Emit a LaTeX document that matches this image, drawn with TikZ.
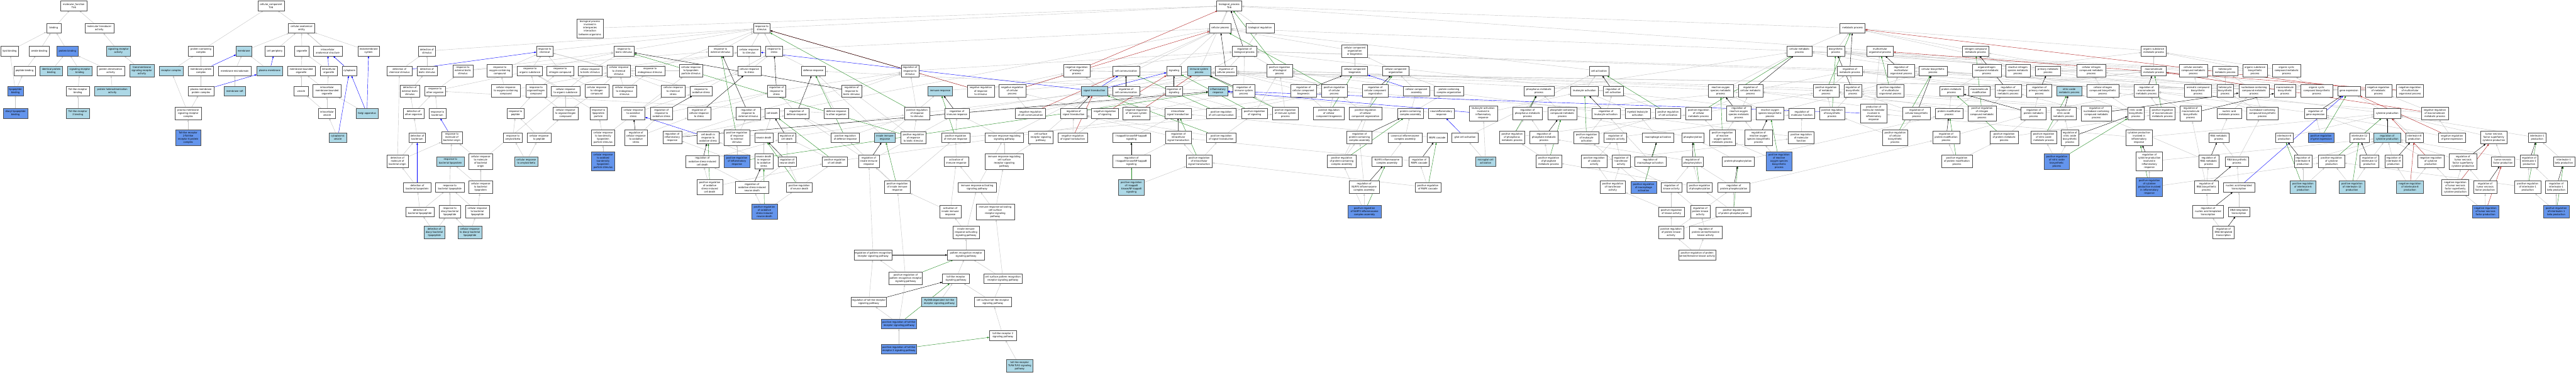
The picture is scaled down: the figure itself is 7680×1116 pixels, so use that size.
\documentclass[tikz,border=0pt]{standalone}
\usepackage{fontspec}
\setmainfont{DejaVu Sans Condensed}
\usetikzlibrary{arrows.meta}
\definecolor{lb}{RGB}{173,216,230}
\definecolor{cf}{RGB}{100,149,237}
\definecolor{gline}{RGB}{196,196,196}
\definecolor{grn}{RGB}{34,139,34}
\definecolor{rd}{RGB}{178,34,34}
\pgfdeclarelayer{back}
\pgfdeclarelayer{bg}
\pgfsetlayers{back,bg,main}
\tikzset{
  box/.style={draw=black!70, line width=0.9pt, fill=white, align=center, inner xsep=2pt, inner ysep=5.5pt,
    minimum height=29pt, font=\fontsize{7.5}{9.5}\selectfont},
  L/.style={fill=lb}, C/.style={fill=cf},
  arr/.style={line width=0.8pt, -{Triangle[length=6pt,width=4.5pt]}},
  eg/.style={arr, draw=gline},
  eb/.style={arr, draw=blue},
  egr/.style={arr, draw=grn},
  er/.style={arr, draw=rd},
  ek/.style={arr, draw=black}
}
\newcommand{\B}[5][]{\node[box,minimum width=#4pt,#1] (#2) at (#3) {#5};}
\begin{document}
\begin{tikzpicture}[x=1pt,y=-1pt]
\begin{pgfonlayer}{back}
\fill[white] (0,0) rectangle (7680,1116);
\end{pgfonlayer}
\useasboundingbox (0,0) rectangle (7680,1116);
% ---------------- molecular function
\B{mf}{220,17}{79}{molecular\_function\\Tlr6}
\B{binding}{160,84}{43}{binding}
\B{mta}{296,84}{86}{molecular transducer\\activity}
\B{lipidb}{29,152}{52}{lipid binding}
\B{amideb}{117,152}{60}{amide binding}
\B[C]{protb}{201,152}{63}{protein binding}
\B[L]{sra}{353,152}{73}{signaling receptor\\activity}
\B{peptb}{73,211}{64}{peptide binding}
\B[L]{idprot}{153,211}{67}{identical protein\\binding}
\B[L]{srb}{238,211}{73}{signaling receptor\\binding}
\B{pdim}{330,211}{83}{protein dimerization\\activity}
\B[L]{tmsra}{423,211}{73}{transmembrane\\signaling receptor\\activity}
\B[C]{lipopb}{46,271}{47}{lipopeptide\\binding}
\B{tlrb}{232,271}{69}{Toll-like receptor\\binding}
\B[L]{phet}{335,271}{108}{protein heterodimerization\\activity}
\B[C]{dlipb}{46,338}{74}{diacyl lipopeptide\\binding}
\B[L]{tlr2b}{232,338}{69}{Toll-like receptor\\2 binding}
% ---------------- cellular component
\B{cc}{808,17}{79}{cellular\_component\\Tlr6}
\B{cae}{899,84}{78}{cellular anatomical\\entity}
\B{pcc}{599,152}{76}{protein-containing\\complex}
\B[L]{membrane}{727,152}{46}{membrane}
\B{cellper}{819,152}{57}{cell periphery}
\B{organelle}{900,152}{43}{organelle}
\B{ias}{977,152}{85}{intracellular\\anatomical structure}
\B{endo}{1099,152}{65}{endomembrane\\system}
\B[L]{recc}{510,211}{72}{receptor complex}
\B{mpc}{599,211}{76}{membrane protein\\complex}
\B{mmd}{700,211}{99}{membrane microdomain}
\B[L]{pm}{804,211}{77}{plasma membrane}
\B{mbo}{898,211}{83}{membrane-bounded\\organelle}
\B{io}{980,211}{50}{intracellular\\organelle}
\B{cyto}{1042,211}{44}{cytoplasm}
\B{pmpc}{599,271}{77}{plasma membrane\\protein complex}
\B[L]{mraft}{700,271}{63}{membrane raft}
\B{vesicle}{898,271}{44}{vesicle}
\B{imbo}{975,271}{84}{intracellular\\membrane-bounded\\organelle}
\B{pmsrc}{561,338}{78}{plasma membrane\\signaling receptor\\complex}
\B{iv}{975,338}{50}{intracellular\\vesicle}
\B[L]{golgi}{1094,338}{66}{Golgi apparatus}
\B[C]{tlr26}{561,410}{74}{Toll-like receptor\\2-Toll-like\\receptor 6 protein\\complex}
\B[L]{cv}{1007,410}{52}{cytoplasmic\\vesicle}
% ---------------- biological process, rows 17/84/152
\B{bp}{3665,17}{75}{biological\_process\\Tlr6}
\B{cellproc}{3638,84}{63}{cellular process}
\B{bioreg}{3757,84}{83}{biological regulation}
\B{rstim}{2271,84}{50}{response to\\stimulus}
\B{bpinter}{1759,84}{80}{biological process\\involved in\\interspecies\\interaction\\between organisms}
\B{metab}{5523,84}{75}{metabolic process}
\B{detstim}{1273,152}{50}{detection of\\stimulus}
\B{rchem}{1624,152}{49}{response to\\chemical}
\B{rbiotic}{1860,152}{61}{response to\\biotic stimulus}
\B{rext}{2148,152}{72}{response to\\external stimulus}
\B{crstim}{2233,152}{70}{cellular response\\to stimulus}
\B{rstress}{2308,152}{50}{response to\\stress}
\B{regbp}{3710,152}{74}{regulation of\\biological process}
\B{ccob}{4039,152}{77}{cellular component\\organization\\or biogenesis}
\B{cmp}{5365,152}{74}{cellular metabolic\\process}
\B{biosyn}{5473,152}{52}{biosynthetic\\process}
\B{mop}{5605,152}{80}{multicellular\\organismal process}
\B{ncmp}{5890,152}{79}{nitrogen compound\\metabolic process}
\B{osmp}{6421,152}{75}{organic substance\\metabolic process}
% ---------------- row 211
\B{detchem}{1191,211}{76}{detection of\\chemical stimulus}
\B{detbiotic}{1273,211}{60}{detection of\\biotic stimulus}
\B{rextbiotic}{1380,211}{59}{response to\\external biotic\\stimulus}
\B{roxy}{1490,211}{75}{response to\\oxygen-containing\\compound}
\B{rorg}{1580,211}{75}{response to\\organic substance}
\B{rnitro}{1670,211}{79}{response to\\nitrogen compound}
\B{crbiotic}{1759,211}{70}{cellular response\\to biotic stimulus}
\B{crchem}{1845,211}{70}{cellular response\\to chemical\\stimulus}
\B{rendo}{1938,211}{87}{response to\\endogenous stimulus}
\B{crlpp}{2060,211}{70}{cellular response\\to lipoprotein\\particle stimulus}
\B{crstress}{2234,211}{70}{cellular response\\to stress}
\B{defense}{2425,211}{72}{defense response}
\B{regrstim}{2713,211}{53}{regulation of\\response to\\stimulus}
\B{negregbp}{3210,211}{79}{negative regulation\\of biological\\process}
\B{cellcomm}{3357,211}{80}{cell communication}
\B{signaling}{3500,211}{44}{signaling}
\B[L]{isp}{3575,211}{68}{immune system\\process}
\B{regcp}{3655,211}{65}{regulation of\\cellular process}
\B{posregbp}{3815,211}{76}{positive regulation\\of biological\\process}
\B{ccbio}{4039,211}{77}{cellular component\\biogenesis}
\B{ccorg}{4161,211}{78}{cellular component\\organization}
\B{cellact}{4767,211}{58}{cell activation}
\B{regmetab}{5515,211}{75}{regulation of\\metabolic process}
\B{regmop}{5668,211}{81}{regulation of\\multicellular\\organismal process}
\B{cbp}{5763,211}{83}{cellular biosynthetic\\process}
\B{oncmp}{5923,211}{86}{organonitrogen\\compound metabolic\\process}
\B{rnsmp}{6016,211}{74}{reactive nitrogen\\species metabolic\\process}
\B{pmp}{6106,211}{75}{primary metabolic\\process}
\B{cncmp}{6235,211}{85}{cellular nitrogen\\compound metabolic\\process}
\B{mmp}{6421,211}{75}{macromolecule\\metabolic process}
\B{cacmp}{6539,211}{85}{cellular aromatic\\compound metabolic\\process}
\B{hmp}{6634,211}{75}{heterocycle\\metabolic process}
\B{osbp}{6723,211}{73}{organic substance\\biosynthetic\\process}
\B{occmp}{6817,211}{86}{organic cyclic\\compound metabolic\\process}
% ---------------- row 271
\B{detextbiotic}{1222,271}{59}{detection of\\external biotic\\stimulus}
\B{rother}{1297,271}{61}{response to\\other organism}
\B{croxy}{1508,271}{86}{cellular response\\to oxygen-containing\\compound}
\B{rorgn}{1598,271}{62}{response to\\organonitrogen\\compound}
\B{crorg}{1686,271}{85}{cellular response\\to organic substance}
\B{crnitro}{1779,271}{71}{cellular response\\to nitrogen\\compound}
\B{crendo}{1862,271}{70}{cellular response\\to endogenous\\stimulus}
\B{crcstress}{2007,271}{71}{cellular response\\to chemical\\stress}
\B{roxstress}{2090,271}{65}{response to\\oxidative stress}
\B{regrstress}{2315,271}{53}{regulation of\\response to\\stress}
\B{regrbiotic}{2539,271}{60}{regulation of\\response to\\biotic stimulus}
\B[L]{immresp}{2803,271}{73}{immune response}
\B{negregrstim}{2924,271}{80}{negative regulation\\of response\\to stimulus}
\B{negregcp}{3018,271}{80}{negative regulation\\of cellular\\process}
\B[L]{sigtrans}{3263,271}{78}{signal transduction}
\B{regcellcomm}{3357,271}{80}{regulation of\\cell communication}
\B{regsig}{3500,271}{52}{regulation of\\signaling}
\B[L]{inflam}{3631,271}{57}{inflammatory\\response}
\B{regisp}{3708,271}{65}{regulation of\\immune system\\process}
\B{regccbio}{3886,271}{77}{regulation of\\cellular component\\biogenesis}
\B{posregcp}{3978,271}{76}{positive regulation\\of cellular\\process}
\B{regccorg}{4100,271}{78}{regulation of\\cellular component\\organization}
\B{ccassembly}{4223,271}{78}{cellular component\\assembly}
\B{pcorg}{4320,271}{88}{protein-containing\\complex organization}
\B{phosmp}{4588,271}{90}{phosphorus metabolic\\process}
\B{leukact}{4724,271}{82}{leukocyte activation}
\B{regcellact}{4809,271}{60}{regulation of\\cell activation}
\B{rosmp}{5130,271}{74}{reactive oxygen\\species metabolic\\process}
\B{regcmp}{5219,271}{73}{regulation of\\cellular metabolic\\process}
\B{posregmetab}{5444,271}{77}{positive regulation\\of metabolic\\process}
\B{regbiosyn}{5524,271}{53}{regulation of\\biosynthetic\\process}
\B{posregmop}{5636,271}{80}{positive regulation\\of multicellular\\organismal process}
\B{protmp}{5818,271}{72}{protein metabolic\\process}
\B{mmmod}{5901,271}{64}{macromolecule\\modification}
\B{regncmp}{5987,271}{78}{regulation of\\nitrogen compound\\metabolic process}
\B{regpmp}{6080,271}{75}{regulation of\\primary metabolic\\process}
\B[L]{nomp}{6169,271}{75}{nitric oxide\\metabolic process}
\B{cncbp}{6269,271}{95}{cellular nitrogen\\compound biosynthetic\\process}
\B{regmmp}{6399,271}{74}{regulation of\\macromolecule\\metabolic process}
\B{acbp}{6553,271}{81}{aromatic compound\\biosynthetic\\process}
\B{hbp}{6634,271}{49}{heterocycle\\biosynthetic\\process}
\B{nbcmp}{6720,271}{91}{nucleobase-containing\\compound metabolic\\process}
\B{mmbp}{6812,271}{64}{macromolecule\\biosynthetic\\process}
\B{occbp}{6907,271}{94}{organic cyclic\\compound biosynthetic\\process}
\B{geneexp}{7003,271}{67}{gene expression}
\B{negregmetab}{7091,271}{79}{negative regulation\\of metabolic\\process}
\B{negregmop}{7185,271}{80}{negative regulation\\of multicellular\\organismal process}
% ---------------- row 338
\B{rbact}{1304,338}{50}{response to\\bacterium}
\B{detother}{1233,338}{63}{detection of\\other organism}
\B{rpept}{1537,338}{49}{response to\\peptide}
\B{crorgn}{1686,338}{74}{cellular response\\to organonitrogen\\compound}
\B{rlpp}{1784,338}{50}{response to\\lipoprotein\\particle}
\B{croxstress}{1888,338}{70}{cellular response\\to oxidative\\stress}
\B{regroxstress}{1972,338}{65}{regulation of\\response to\\oxidative stress}
\B{regcrstress}{2084,338}{70}{regulation of\\cellular response\\to stress}
\B{regrext}{2231,338}{73}{regulation of\\response to\\external stimulus}
\B{celldeath}{2302,338}{43}{cell death}
\B{regdef}{2375,338}{72}{regulation of\\defense response}
\B{defother}{2493,338}{72}{defense response\\to other organism}
\B{posregrstim}{2734,338}{76}{positive regulation\\of response\\to stimulus}
\B{regimmresp}{2853,338}{73}{regulation of\\immune response}
\B{negregcellcomm}{3072,338}{90}{negative regulation\\of cell communication}
\B{regsigtrans}{3201,338}{78}{regulation of\\signal transduction}
\B{negregsig}{3294,338}{80}{negative regulation\\of signaling}
\B{negregisp}{3388,338}{80}{negative regulation\\of immune system\\process}
\B{ist}{3512,338}{78}{intracellular\\signal transduction}
\B{posregcellcomm}{3641,338}{88}{positive regulation\\of cell communication}
\B{posregsig}{3740,338}{77}{positive regulation\\of signaling}
\B{posregisp}{3832,338}{77}{positive regulation\\of immune system\\process}
\B{posregccbio}{3962,338}{92}{positive regulation\\of cellular\\component biogenesis}
\B{posregccorg}{4071,338}{98}{positive regulation\\of cellular\\component organization}
\B{pcassembly}{4205,338}{77}{protein-containing\\complex assembly}
\B{neuroinflam}{4297,338}{78}{neuroinflammatory\\response}
\B{leukactinflam}{4422,338}{84}{leukocyte activation\\involved in\\inflammatory\\response}
\B{regphosmp}{4554,338}{89}{regulation of\\phosphorus metabolic\\process}
\B{pcompmp}{4658,338}{87}{phosphate-containing\\compound metabolic\\process}
\B{regleukact}{4788,338}{83}{regulation of\\leukocyte activation}
\B{myelact}{4882,338}{75}{myeloid leukocyte\\activation}
\B{posregcellact}{4973,338}{76}{positive regulation\\of cell activation}
\B{posregcmp}{5064,338}{77}{positive regulation\\of cellular\\metabolic process}
\B{regrosmp}{5184,338}{74}{regulation of\\reactive oxygen\\species metabolic\\process}
\B{rosbp}{5277,338}{83}{reactive oxygen\\species biosynthetic\\process}
\B{regmf}{5372,338}{77}{regulation of\\molecular function}
\B{posregbiosyn}{5462,338}{76}{positive regulation\\of biosynthetic\\process}
\B{prodmm}{5586,338}{80}{production of\\molecular mediator\\involved in\\inflammatory\\response}
\B{regcbp}{5714,338}{83}{regulation of\\cellular biosynthetic\\process}
\B{protmod}{5811,338}{81}{protein modification\\process}
\B{posregncmp}{5909,338}{84}{positive regulation\\of nitrogen\\compound metabolic\\process}
\B{regprotmp}{6063,338}{75}{regulation of\\protein metabolic\\process}
\B{regnomp}{6152,338}{75}{regulation of\\nitric oxide\\metabolic process}
\B{regnbcmp}{6250,338}{91}{regulation of\\nucleobase-containing\\compound metabolic\\process}
\B{nobp}{6368,338}{50}{nitric oxide\\biosynthetic\\process}
\B{posregmmp}{6447,338}{76}{positive regulation\\of macromolecule\\metabolic process}
\B{regmmbp}{6531,338}{64}{regulation of\\macromolecule\\biosynthetic\\process}
\B{namp}{6646,338}{74}{nucleic acid\\metabolic process}
\B{nbcbp}{6745,338}{94}{nucleobase-containing\\compound biosynthetic\\process}
\B{reggeneexp}{6903,338}{67}{regulation of\\gene expression}
\B{cytprod}{7117,338}{80}{cytokine production}
\B{negregmmp}{7259,338}{80}{negative regulation\\of macromolecule\\metabolic process}
% ---------------- row 410
\B{rmbo}{1347,410}{62}{response to\\molecule of\\bacterial origin}
\B{detbact}{1244,410}{49}{detection of\\bacterium}
\B{ramyloid}{1529,410}{56}{response to\\amyloid-beta}
\B{crpept}{1607,410}{71}{cellular response\\to peptide}
\B{crldl}{1798,410}{69}{cellular response\\to low-density\\lipoprotein\\particle stimulus}
\B{regcroxstress}{1896,410}{69}{regulation of\\cellular response\\to oxidative\\stress}
\B{reginflam}{2004,410}{56}{regulation of\\inflammatory\\response}
\B{cdoxstress}{2111,410}{66}{cell death in\\response to\\oxidative stress}
\B{posregrext}{2197,410}{76}{positive regulation\\of response\\to external\\stimulus}
\B{neurondeath}{2277,410}{54}{neuron death}
\B{regcelldeath}{2346,410}{52}{regulation of\\cell death}
\B{posregdef}{2520,410}{84}{positive regulation\\of defense response}
\B[L]{innate}{2638,410}{61}{innate immune\\response}
\B{posregrbiotic}{2723,410}{76}{positive regulation\\of response\\to biotic stimulus}
\B{posregimmresp}{2849,410}{84}{positive regulation\\of immune response}
\B{irrsp}{2994,410}{115}{immune response-regulating\\signaling pathway}
\B{csrsp}{3103,410}{73}{cell surface\\receptor signaling\\pathway}
\B{negregsigtrans}{3198,410}{88}{negative regulation\\of signal transduction}
\B{ikk}{3373,410}{113}{I-kappaB kinase/NF-kappaB\\signaling}
\B{regist}{3513,410}{78}{regulation of\\intracellular\\signal transduction}
\B{posregsigtrans}{3641,410}{89}{positive regulation\\of signal transduction}
\B{regpcassembly}{4053,410}{75}{regulation of\\protein-containing\\complex assembly}
\B{canonical}{4189,410}{102}{canonical inflammasome\\complex assembly}
\B{mapk}{4285,410}{59}{MAPK cascade}
\B{glial}{4368,410}{79}{glial cell activation}
\B{posregphosmp}{4508,410}{75}{positive regulation\\of phosphorus\\metabolic process}
\B{regphmp}{4603,410}{84}{regulation of\\phosphate metabolic\\process}
\B{posregleukact}{4730,410}{75}{positive regulation\\of leukocyte\\activation}
\B{regcatact}{4816,410}{68}{regulation of\\catalytic activity}
\B{macroact}{4943,410}{93}{macrophage activation}
\B{phosphorylation}{5047,410}{66}{phosphorylation}
\B{posregrosmp}{5135,410}{77}{positive regulation\\of reactive\\oxygen species\\metabolic process}
\B{regrosbp}{5243,410}{84}{regulation of\\reactive oxygen\\species biosynthetic\\process}
\B{posregmf}{5370,410}{77}{positive regulation\\of molecular\\function}
\B{posregcbp}{5650,410}{76}{positive regulation\\of cellular\\biosynthetic\\process}
\B{regprotmod}{5802,410}{81}{regulation of\\protein modification\\process}
\B{posregprotmp}{5975,410}{83}{positive regulation\\of protein metabolic\\process}
\B{posregnomp}{6093,410}{77}{positive regulation\\of nitric oxide\\metabolic process}
\B{regnobp}{6171,410}{53}{regulation of\\nitric oxide\\biosynthetic\\process}
\B{cpinflam}{6377,410}{80}{cytokine production\\involved in\\inflammatory\\response}
\B{rnamp}{6615,410}{60}{RNA metabolic\\process}
\B{il6}{6810,410}{53}{interleukin-6\\production}
\B[C]{posreggeneexp}{6920,410}{77}{positive regulation\\of gene expression}
\B{il12}{7034,410}{59}{interleukin-12\\production}
\B[L]{regcytprod}{7117,410}{80}{regulation of\\cytokine production}
\B{il8}{7198,410}{53}{interleukin-8\\production}
\B{negreggeneexp}{7310,410}{80}{negative regulation\\of gene expression}
\B{tnfsf}{7435,410}{80}{tumor necrosis\\factor superfamily\\cytokine production}
\B{il1}{7564,410}{52}{interleukin-1\\production}
% ---------------- row 481
\B{detmbo}{1185,481}{63}{detection of\\molecule of\\bacterial origin}
\B[L]{rblp}{1343,481}{83}{response to\\bacterial lipoprotein}
\B{crmbo}{1433,481}{70}{cellular response\\to molecule\\of bacterial\\origin}
\B[L]{cramyloid}{1569,481}{69}{cellular response\\to amyloid-beta}
\B[C]{croxldl}{1798,481}{69}{cellular response\\to oxidised\\low-density\\lipoprotein\\particle stimulus}
\B{regoxcd}{2094,481}{100}{regulation of\\oxidative stress-induced\\cell death}
\B[C]{posreginflam}{2197,481}{76}{positive regulation\\of inflammatory\\response}
\B{ndoxstress}{2277,481}{55}{neuron death\\in response\\to oxidative\\stress}
\B{regneurondeath}{2347,481}{54}{regulation of\\neuron death}
\B{posregcelldeath}{2489,481}{75}{positive regulation\\of cell death}
\B{reginnate}{2590,481}{62}{regulation of\\innate immune\\response}
\B{actimmresp}{2851,481}{74}{activation of\\immune response}
\B{irrcsrsp}{2994,481}{115}{immune response-regulating\\cell surface\\receptor signaling\\pathway}
\B{regikk}{3373,481}{113}{regulation of\\I-kappaB kinase/NF-kappaB\\signaling}
\B{posregist}{3575,481}{78}{positive regulation\\of intracellular\\signal transduction}
\B{posregpcassembly}{4000,481}{85}{positive regulation\\of protein-containing\\complex assembly}
\B{nlrp3}{4135,481}{90}{NLRP3 inflammasome\\complex assembly}
\B{regmapk}{4231,481}{60}{regulation of\\MAPK cascade}
\B[L]{microglial}{4429,481}{60}{microglial cell\\activation}
\B{posregphmp}{4617,481}{77}{positive regulation\\of phosphate\\metabolic process}
\B{posregcatact}{4753,481}{76}{positive regulation\\of catalytic\\activity}
\B{regtransf}{4833,481}{53}{regulation of\\transferase\\activity}
\B{regmacroact}{4920,481}{93}{regulation of\\macrophage activation}
\B{regphosph}{5046,481}{65}{regulation of\\phosphorylation}
\B{protphosph}{5182,481}{96}{protein phosphorylation}
\B[C]{posregrosbp}{5304,481}{76}{positive regulation\\of reactive\\oxygen species\\biosynthetic\\process}
\B{posregprotmod}{5834,481}{92}{positive regulation\\of protein modification\\process}
\B[C]{posregnobp}{6132,481}{76}{positive regulation\\of nitric oxide\\biosynthetic\\process}
\B{regcpinflam}{6408,481}{79}{regulation of\\cytokine production\\involved in\\inflammatory\\response}
\B{regrnamp}{6585,481}{61}{regulation of\\RNA metabolic\\process}
\B{rnabp}{6669,481}{70}{RNA biosynthetic\\process}
\B{regil6}{6866,481}{53}{regulation of\\interleukin-6\\production}
\B{posregcytprod}{6951,481}{77}{positive regulation\\of cytokine\\production}
\B{regil12}{7064,481}{56}{regulation of\\interleukin-12\\production}
\B{regil8}{7136,481}{52}{regulation of\\interleukin-8\\production}
\B{negregcytprod}{7247,481}{80}{negative regulation\\of cytokine\\production}
\B{regtnfsf}{7343,481}{81}{regulation of\\tumor necrosis\\factor superfamily\\cytokine production}
\B{tnfprod}{7462,481}{70}{tumor necrosis\\factor production}
\B{regil1}{7540,481}{53}{regulation of\\interleukin-1\\production}
\B{il1b}{7644,481}{64}{interleukin-1\\beta production}
% ---------------- row 558
\B{detblp}{1244,558}{82}{detection of\\bacterial lipoprotein}
\B{rblpept}{1341,558}{85}{response to\\bacterial lipopeptide}
\B{crblp}{1433,558}{70}{cellular response\\to bacterial\\lipoprotein}
\B{posregoxcd}{2116,558}{76}{positive regulation\\of oxidative\\stress-induced\\cell death}
\B{regoxnd}{2242,558}{100}{regulation of\\oxidative stress-induced\\neuron death}
\B{posregneurondeath}{2383,558}{77}{positive regulation\\of neuron death}
\B{posreginnate}{2675,558}{76}{positive regulation\\of innate immune\\response}
\B{iraspa}{2913,558}{114}{immune response-activating\\signaling pathway}
\B[L]{posregikk}{3373,558}{77}{positive regulation\\of I-kappaB\\kinase/NF-kappaB\\signaling}
\B{regnlrp3}{4067,558}{90}{regulation of\\NLRP3 inflammasome\\complex assembly}
\B{posregmapk}{4257,558}{77}{positive regulation\\of MAPK cascade}
\B{posregtransf}{4808,558}{76}{positive regulation\\of transferase\\activity}
\B[C]{posregmacroact}{4900,558}{77}{positive regulation\\of macrophage\\activation}
\B{regkinase}{4983,558}{62}{regulation of\\kinase activity}
\B{posregphosph}{5067,558}{76}{positive regulation\\of phosphorylation}
\B{regprotphosph}{5169,558}{97}{regulation of\\protein phosphorylation}
\B[C]{posregcpinflam}{6408,558}{79}{positive regulation\\of cytokine\\production involved\\in inflammatory\\response}
\B{regrnabp}{6578,558}{71}{regulation of\\RNA biosynthetic\\process}
\B{natt}{6675,558}{93}{nucleic acid-templated\\transcription}
\B[L]{posregil6}{6866,558}{76}{positive regulation\\of interleukin-6\\production}
\B[L]{posregil12}{7012,558}{77}{positive regulation\\of interleukin-12\\production}
\B[L]{negregil8}{7185,558}{80}{negative regulation\\of interleukin-8\\production}
\B{negregtnfsf}{7320,558}{81}{negative regulation\\of tumor necrosis\\factor superfamily\\cytokine production}
\B{regtnf}{7409,558}{70}{regulation of\\tumor necrosis\\factor production}
\B{posregil1}{7536,558}{77}{positive regulation\\of interleukin-1\\production}
\B{regil1b}{7621,558}{65}{regulation of\\interleukin-1\\beta production}
% ---------------- row 631
\B{detblpept}{1252,631}{83}{detection of\\bacterial lipopeptide}
\B{rdiacyl}{1341,631}{63}{response to\\diacyl bacterial\\lipopeptide}
\B{crblpept}{1423,631}{71}{cellular response\\to bacterial\\lipopeptide}
\B[C]{posregoxnd}{2279,631}{76}{positive regulation\\of oxidative\\stress-induced\\neuron death}
\B{actinnate}{2833,631}{63}{activation of\\innate immune\\response}
\B{iracsrsp}{2967,631}{115}{immune response-activating\\cell surface\\receptor signaling\\pathway}
\B[C]{posregnlrp3}{4068,631}{99}{positive regulation\\of NLRP3 inflammasome\\complex assembly}
\B{posregkinase}{4983,631}{76}{positive regulation\\of kinase activity}
\B{regpka}{5069,631}{58}{regulation of\\protein kinase\\activity}
\B{posregprotphosph}{5168,631}{106}{positive regulation\\of protein phosphorylation}
\B{regnatt}{6583,631}{92}{regulation of\\nucleic acid-templated\\transcription}
\B{dtt}{6675,631}{64}{DNA-templated\\transcription}
\B[C]{negregtnf}{7410,631}{79}{negative regulation\\of tumor necrosis\\factor production}
\B[C]{posregil1b}{7621,631}{77}{positive regulation\\of interleukin-1\\beta production}
% ---------------- row 693
\B[L]{detdiacyl}{1295,693}{63}{detection of\\diacyl bacterial\\lipopeptide}
\B[L]{crdiacyl}{1401,693}{73}{cellular response\\to diacyl bacterial\\lipopeptide}
\B{iiraspa}{2880,693}{79}{innate immune\\response-activating\\signaling pathway}
\B{posregpka}{4982,693}{74}{positive regulation\\of protein kinase\\activity}
\B{regpstk}{5085,693}{98}{regulation of\\protein serine/threonine\\kinase activity}
\B{regdtt}{6629,693}{63}{regulation of\\DNA-templated\\transcription}
% ---------------- lower rows
\B{regprr}{2603,760}{110}{regulation of pattern recognition\\receptor signaling pathway}
\B{prr}{2880,760}{110}{pattern recognition receptor\\signaling pathway}
\B{posregpstk}{5060,760}{110}{positive regulation of protein\\serine/threonine kinase activity}
\B{posregprr}{2700,830}{100}{positive regulation of\\pattern recognition receptor\\signaling pathway}
\B{tlrsp}{2850,830}{80}{toll-like receptor\\signaling pathway}
\B{csprr}{2990,830}{115}{cell surface pattern recognition\\receptor signaling pathway}
\B{regtlr}{2590,900}{105}{regulation of toll-like receptor\\signaling pathway}
\B[L]{myd88}{2800,900}{105}{MyD88-dependent toll-like\\receptor signaling pathway}
\B{cstlr}{2960,900}{110}{cell surface toll-like receptor\\signaling pathway}
\B[C]{posregtlr}{2680,965}{105}{positive regulation of toll-like\\receptor signaling pathway}
\B{tlr2sp}{2990,1000}{80}{toll-like receptor 2\\signaling pathway}
\B[C]{posregtlr2}{2680,1040}{105}{positive regulation of toll-like\\receptor 2 signaling pathway}
\B[L]{tlr62}{3040,1090}{80}{toll-like receptor\\TLR6:TLR2 signaling\\pathway}
% ================= edges
\begin{pgfonlayer}{bg}
\foreach \a/\b in {binding/mf, mta/mf, lipidb/binding, amideb/binding, protb/binding, sra/mta, peptb/amideb, idprot/protb, srb/protb, pdim/protb, tmsra/sra, lipopb/lipidb, lipopb/peptb, tlrb/srb, phet/pdim, dlipb/lipopb, tlr2b/tlrb,
pcc/cc, cae/cc, membrane/cae, cellper/cae, organelle/cae, ias/cae, endo/cae, cyto/cae, recc/pcc, mpc/pcc, mmd/membrane, pm/membrane, mbo/organelle, io/organelle, pmpc/mpc, mraft/mmd, vesicle/mbo, imbo/mbo, imbo/io, iv/vesicle, iv/imbo, golgi/imbo, cv/iv, pmsrc/recc, pmsrc/pmpc, tlr26/pmsrc,
cellproc/bp, bioreg/bp, rstim/bp, bpinter/bp, metab/bp, mop/bp, isp/bp, regbp/bioreg,
detstim/rstim, rchem/rstim, rbiotic/rstim, rext/rstim, crstim/rstim, crstim/cellproc, rstress/rstim, ccob/cellproc,
detchem/detstim, detbiotic/detstim, rextbiotic/rext, rextbiotic/rbiotic, roxy/rchem, rorg/rchem, rnitro/rchem, crbiotic/rbiotic, crbiotic/crstim, crchem/rchem, crchem/crstim, rendo/rstim, crlpp/crchem, crstress/crstim, crstress/rstress, defense/rstress, regrstim/regbp, negregbp/regbp, cellcomm/cellproc, signaling/cellproc, regcp/regbp, posregbp/regbp, ccbio/ccob, ccorg/ccob, cellact/cellproc, regmetab/regbp, regmop/regbp, cbp/biosyn, cbp/cmp, oncmp/ncmp, oncmp/osmp, rnsmp/ncmp, pmp/metab, cncmp/ncmp, cncmp/cmp, mmp/osmp, mmp/pmp, cacmp/cmp, hmp/cmp, osbp/biosyn, osbp/osmp, occmp/osmp, osmp/metab, cmp/metab, biosyn/metab, ncmp/metab, cmp/cellproc,
detextbiotic/detbiotic, rother/rbiotic, rother/rextbiotic, croxy/roxy, croxy/crchem, rorgn/rnitro, rorgn/rorg, crorg/rorg, crorg/crchem, crnitro/rnitro, crnitro/crchem, crendo/rendo, crendo/crchem, crcstress/crchem, crcstress/crstress, roxstress/rstress, roxstress/rchem, regrstress/regrstim, regrbiotic/regrstim, immresp/isp, negregrstim/regrstim, negregrstim/negregbp, negregcp/regcp, negregcp/negregbp, sigtrans/cellproc, regcellcomm/regcp, regsig/regbp, inflam/defense, regisp/regbp, regccbio/regcp, posregcp/regcp, posregcp/posregbp, regccorg/regcp, ccassembly/ccorg, pcorg/ccorg, phosmp/cmp, leukact/cellact, regcellact/regcp, rosmp/cmp, regcmp/regmetab, regcmp/regcp, posregmetab/regmetab, posregmetab/posregbp, regbiosyn/regmetab, posregmop/regmop, posregmop/posregbp, protmp/mmp, protmp/oncmp, mmmod/mmp, regncmp/regmetab, regpmp/regmetab, nomp/rnsmp, cncbp/cncmp, cncbp/cbp, regmmp/regmetab, acbp/cacmp, acbp/cbp, hbp/hmp, hbp/cbp, nbcmp/cacmp, nbcmp/hmp, nbcmp/cncmp, mmbp/mmp, mmbp/biosyn, occbp/occmp, occbp/osbp, geneexp/mmp, negregmetab/regmetab, negregmetab/negregbp, negregmop/regmop, negregmop/negregbp}
  \draw[eg] (\a) -- (\b);
\foreach \a/\b in {rbact/rother, rpept/rorgn, crorgn/rorgn, crorgn/crorg, crorgn/crnitro, rlpp/rorg, croxstress/roxstress, croxstress/crcstress, regroxstress/regrstress, regcrstress/regrstress, regrext/regrstim, celldeath/cellproc, regdef/regrstress, defother/defense, defother/rother, posregrstim/regrstim, posregrstim/posregbp, regimmresp/regisp, negregcellcomm/regcellcomm, negregcellcomm/negregcp, regsigtrans/regsig, negregsig/regsig, negregsig/negregcp, negregisp/regisp, negregisp/negregbp, ist/sigtrans, posregcellcomm/regcellcomm, posregcellcomm/posregcp, posregsig/regsig, posregsig/posregbp, posregisp/regisp, posregisp/posregbp, posregccbio/regccbio, posregccbio/posregcp, posregccorg/regccorg, posregccorg/posregcp, pcassembly/ccassembly, pcassembly/pcorg, neuroinflam/inflam, leukactinflam/leukact, regphosmp/regcmp, pcompmp/phosmp, regleukact/regcellact, myelact/leukact, posregcellact/regcellact, posregcellact/posregcp, posregcmp/regcmp, posregcmp/posregmetab, regrosmp/regcmp, rosbp/rosmp, rosbp/cbp, regmf/regbp, posregbiosyn/regbiosyn, posregbiosyn/posregmetab, prodmm/mop, regcbp/regbiosyn, regcbp/regcmp, protmod/protmp, protmod/mmmod, posregncmp/regncmp, posregncmp/posregmetab, regprotmp/regmmp, regprotmp/regpmp, regnomp/regcmp, regnbcmp/regncmp, nobp/nomp, nobp/cncbp, posregmmp/regmmp, posregmmp/posregmetab, regmmbp/regmmp, regmmbp/regbiosyn, namp/nbcmp, nbcbp/nbcmp, nbcbp/cncbp, nbcbp/acbp, nbcbp/hbp, reggeneexp/regmmp, cytprod/geneexp, cytprod/mop, negregmmp/regmmp, negregmmp/negregmetab,
detbact/detother, detother/detextbiotic, detother/rother, ramyloid/rpept, crpept/rpept, crpept/crorgn, crldl/rlpp, crldl/crlpp, regcroxstress/regroxstress, regcroxstress/regcrstress, reginflam/regdef, reginflam/regrext, cdoxstress/celldeath, posregrext/regrext, posregrext/posregrstim, neurondeath/celldeath, regcelldeath/regcp, posregdef/regdef, posregdef/posregrstim, innate/immresp, innate/defense, posregrbiotic/regrbiotic, posregrbiotic/posregrstim, posregimmresp/regimmresp, posregimmresp/posregisp, irrsp/sigtrans, irrsp/regimmresp, csrsp/sigtrans, negregsigtrans/regsigtrans, negregsigtrans/negregsig, ikk/ist, regist/regsigtrans, posregsigtrans/regsigtrans, posregsigtrans/posregsig, regpcassembly/regccorg, canonical/pcassembly, mapk/ist, glial/cellact, posregphosmp/regphosmp, posregphosmp/posregcmp, regphmp/regphosmp, posregleukact/regleukact, posregleukact/posregcellact, regcatact/regmf, macroact/myelact, phosphorylation/pcompmp, posregrosmp/regrosmp, posregrosmp/posregcmp, regrosbp/regrosmp, posregmf/regmf, posregmf/posregbp, posregcbp/regcbp, posregcbp/posregbiosyn, regprotmod/regprotmp, posregprotmp/regprotmp, posregprotmp/posregmmp, posregnomp/regnomp, regnobp/regnomp, cpinflam/cytprod, cpinflam/prodmm, rnamp/namp, il6/cytprod, posreggeneexp/reggeneexp, il12/cytprod, regcytprod/reggeneexp, il8/cytprod, negreggeneexp/reggeneexp, negreggeneexp/negregmmp, tnfsf/cytprod, il1/cytprod}
  \draw[eg] (\a) -- (\b);
\foreach \a/\b in {detmbo/detchem, detmbo/rmbo, detmbo/detbact, rblp/rmbo, crmbo/rmbo, crmbo/crbiotic, cramyloid/ramyloid, cramyloid/crpept, croxldl/crldl, regoxcd/regcelldeath, posreginflam/reginflam, posreginflam/posregrext, ndoxstress/neurondeath, ndoxstress/cdoxstress, regneurondeath/regcelldeath, posregcelldeath/regcelldeath, posregcelldeath/posregcp, reginnate/regimmresp, reginnate/regdef, actimmresp/posregimmresp, irrcsrsp/irrsp, irrcsrsp/csrsp, regikk/regist, posregist/regist, posregist/posregsigtrans, posregpcassembly/regpcassembly, posregpcassembly/posregccorg, nlrp3/canonical, regmapk/regist, microglial/glial, microglial/leukactinflam, posregphmp/regphmp, posregphmp/posregphosmp, posregcatact/regcatact, posregcatact/posregmf, regtransf/regcatact, regmacroact/regleukact, regphosph/regphmp, protphosph/phosphorylation, protphosph/protmod, posregrosbp/regrosbp, posregrosbp/posregrosmp, posregprotmod/regprotmod, posregprotmod/posregprotmp, posregnobp/regnobp, posregnobp/posregnomp, regcpinflam/regcytprod, regrnamp/regnbcmp, rnabp/rnamp, rnabp/nbcbp, regil6/regcytprod, posregcytprod/regcytprod, regil12/regcytprod, regil8/regcytprod, negregcytprod/regcytprod, regtnfsf/regcytprod, tnfprod/tnfsf, regil1/regcytprod, il1b/il1,
detblp/detmbo, rblpept/rblp, crblp/rblp, crblp/crmbo, posregoxcd/regoxcd, posregoxcd/posregcelldeath, regoxnd/regoxcd, regoxnd/regneurondeath, posregneurondeath/regneurondeath, posregneurondeath/posregcelldeath, posreginnate/reginnate, posreginnate/posregdef, posreginnate/posregimmresp, iraspa/irrsp, iraspa/actimmresp, posregikk/regikk, posregikk/posregist, regnlrp3/regpcassembly, posregmapk/regmapk, posregmapk/posregist, posregtransf/regtransf, posregtransf/posregcatact, posregmacroact/regmacroact, posregmacroact/posregleukact, regkinase/regtransf, regkinase/regphosph, posregphosph/regphosph, posregphosph/posregphmp, regprotphosph/regphosph, regprotphosph/regprotmod, posregcpinflam/regcpinflam, posregcpinflam/posregcytprod, regrnabp/regrnamp, regrnabp/regmmbp, natt/rnabp, posregil6/regil6, posregil6/posregcytprod, posregil12/regil12, posregil12/posregcytprod, negregil8/regil8, negregil8/negregcytprod, negregtnfsf/regtnfsf, negregtnfsf/negregcytprod, regtnf/regtnfsf, posregil1/regil1, posregil1/posregcytprod, regil1b/regil1,
detblpept/detblp, detblpept/rblpept, rdiacyl/rblpept, crblpept/rblpept, crblpept/crblp, posregoxnd/regoxnd, posregoxnd/posregneurondeath, actinnate/actimmresp, actinnate/posreginnate, iracsrsp/iraspa, iracsrsp/irrcsrsp, posregnlrp3/regnlrp3, posregnlrp3/posregpcassembly, posregkinase/regkinase, posregkinase/posregtransf, regpka/regkinase, regpka/regprotphosph, posregprotphosph/regprotphosph, posregprotphosph/posregphosph, regnatt/regrnabp, dtt/natt, negregtnf/regtnf, negregtnf/negregtnfsf, posregil1b/regil1b, posregil1b/posregil1,
detdiacyl/detblpept, detdiacyl/rdiacyl, crdiacyl/rdiacyl, crdiacyl/crblpept, iiraspa/iraspa, iiraspa/actinnate, posregpka/regpka, posregpka/posregkinase, posregpka/posregprotphosph, regpstk/regpka, regdtt/regnatt,
regprr/reginnate, prr/iiraspa, posregpstk/posregpka, posregpstk/regpstk, posregprr/regprr, posregprr/posreginnate, tlrsp/prr, csprr/prr, csprr/iracsrsp, regtlr/regprr, myd88/tlrsp, cstlr/tlrsp, cstlr/csprr, posregtlr/regtlr, posregtlr/posregprr, tlr2sp/cstlr, posregtlr2/posregtlr, tlr62/tlr2sp}
  \draw[eg] (\a) -- (\b);
% part_of (blue)
\foreach \a/\b in {mpc/membrane, pm/cellper, pmpc/pm, io/ias, cyto/ias, golgi/cyto, golgi/endo, cv/cyto, detchem/rchem, sigtrans/cellcomm, sigtrans/signaling, sigtrans/crstim, leukactinflam/inflam, ccassembly/ccbio, prodmm/inflam, glial/neuroinflam, rmbo/rbact, natt/geneexp, detblp/detbact, cdoxstress/croxstress}
  \draw[eb] (\a) -- (\b);
% positively regulates (green)
\foreach \a/\b in {posregbp/bp, posregcp/cellproc, posregmetab/metab, posregmop/mop, posregrstim/rstim, posregisp/isp, posregccbio/ccbio, posregccorg/ccorg, posregcellcomm/cellcomm, posregsig/signaling, posregcellact/cellact, posregcmp/cmp, posregbiosyn/biosyn, posregncmp/ncmp, posregmmp/mmp, posregrext/rext, posregdef/defense, posregrbiotic/rbiotic, posregimmresp/immresp, posregsigtrans/sigtrans, posregphosmp/phosmp, posregleukact/leukact, posregrosmp/rosmp, posregcbp/cbp, posregprotmp/protmp, posregnomp/nomp, posreggeneexp/geneexp, posreginflam/inflam, posregcelldeath/celldeath, posregist/ist, posregpcassembly/pcassembly, posregphmp/pcompmp, posregrosbp/rosbp, posregprotmod/protmod, posregnobp/nobp, posregcytprod/cytprod, posregneurondeath/neurondeath, posreginnate/innate, posregikk/ikk, posregmapk/mapk, posregmacroact/macroact, posregphosph/phosphorylation, posregcpinflam/cpinflam, posregil6/il6, posregil12/il12, posregil1/il1, posregoxnd/ndoxstress, posregnlrp3/nlrp3, posregprotphosph/protphosph, posregil1b/il1b, posregoxcd/cdoxstress, posregprr/prr, posregtlr/tlrsp, posregtlr2/tlr2sp}
  \draw[egr] (\a) -- (\b);
% negatively regulates (red)
\foreach \a/\b in {negregbp/bp, negregcp/cellproc, negregrstim/rstim, negregmetab/metab, negregmop/mop, negregmmp/mmp, negreggeneexp/geneexp, negregcytprod/cytprod, negregil8/il8, negregtnfsf/tnfsf, negregtnf/tnfprod, negregcellcomm/cellcomm, negregsig/signaling, negregisp/isp, negregsigtrans/sigtrans}
  \draw[er] (\a) -- (\b);
% regulates (black)
\foreach \a/\b in {regbp/bp, regrstim/rstim, regcp/cellproc, regmetab/metab, regmop/mop, regcellcomm/cellcomm, regsig/signaling, regisp/isp, regccbio/ccbio, regccorg/ccorg, regcellact/cellact, regcmp/cmp, regbiosyn/biosyn, regncmp/ncmp, regpmp/pmp, regmmp/mmp, regrstress/rstress, regrbiotic/rbiotic, regroxstress/roxstress, regcrstress/crstress, regrext/rext, regdef/defense, regimmresp/immresp, regsigtrans/sigtrans, regphosmp/phosmp, regleukact/leukact, regrosmp/rosmp, regcbp/cbp, regprotmp/protmp, regnomp/nomp, regnbcmp/nbcmp, regmmbp/mmbp, reggeneexp/geneexp, regcroxstress/croxstress, reginflam/inflam, regcelldeath/celldeath, regist/ist, regpcassembly/pcassembly, regphmp/pcompmp, regrosbp/rosbp, regprotmod/protmod, regnobp/nobp, regoxcd/cdoxstress, regneurondeath/neurondeath, reginnate/innate, regikk/ikk, regmapk/mapk, regmacroact/macroact, regphosph/phosphorylation, regcpinflam/cpinflam, regrnamp/rnamp, regil6/il6, regil12/il12, regil8/il8, regtnfsf/tnfsf, regil1/il1, regoxnd/ndoxstress, regnlrp3/nlrp3, regprotphosph/protphosph, regrnabp/rnabp, regtnf/tnfprod, regil1b/il1b, regnatt/natt, regdtt/dtt, regcytprod/cytprod, regprr/prr, regtlr/tlrsp}
  \draw[ek] (\a) -- (\b);
\end{pgfonlayer}
\end{tikzpicture}
\end{document}
